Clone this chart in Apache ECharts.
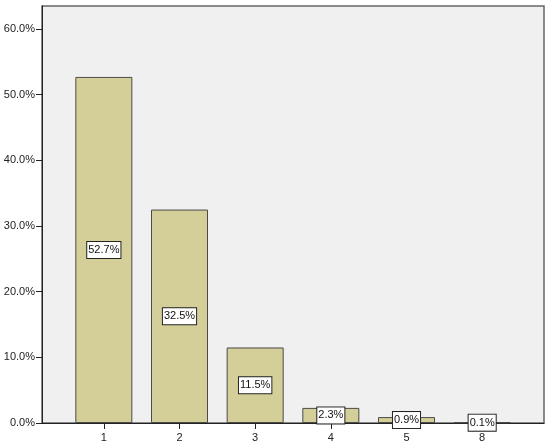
<!DOCTYPE html>
<html>
<head>
<meta charset="utf-8">
<script src="https://cdn.jsdelivr.net/npm/echarts@6/dist/echarts.min.js"></script>
<style>html,body{margin:0;padding:0;background:#fff;}#c{width:550px;height:446px;}</style>
</head>
<body>
<div id="c"></div>
<script>
const categories = ['1', '2', '3', '4', '5', '8'];
const percents = [52.7, 32.5, 11.5, 2.3, 0.9, 0.1];
const yTicks = [0, 10, 20, 30, 40, 50, 60];
const yMax = 63.5;

const chart = echarts.init(document.getElementById('c'), null, {renderer: 'canvas'});
const font = 'Liberation Sans, Arial, sans-serif';
chart.setOption({
  animation: false,
  backgroundColor: '#ffffff',
  grid: [
    {left: 42, right: 6, top: 6, bottom: 23, show: true, backgroundColor: '#F0F0F0', borderColor: '#666', borderWidth: 1.5},
    {left: 66, right: 30, top: 6, bottom: 23}
  ],
  xAxis: [
    {gridIndex: 0, type: 'value', min: 0, max: 1, axisLine: {show: true, onZero: false, lineStyle: {color: '#222', width: 1}},
     axisTick: {show: false}, axisLabel: {show: false}, splitLine: {show: false}},
    {gridIndex: 1, type: 'category', data: categories, axisLine: {show: false},
     axisTick: {show: true, alignWithLabel: true, length: 6, lineStyle: {color: '#222'}},
     axisLabel: {fontSize: 11, color: '#222', fontFamily: font, margin: 9}}
  ],
  yAxis: [
    {gridIndex: 0, type: 'value', min: 0, max: yMax,
     axisLine: {show: true, lineStyle: {color: '#222', width: 1}},
     axisTick: {show: true, length: 6, lineStyle: {color: '#222'}, customValues: yTicks},
     axisLabel: {fontSize: 11, color: '#222', fontFamily: font, margin: 7, customValues: yTicks,
       formatter: v => v.toFixed(1) + '%'},
     splitLine: {show: false}},
    {gridIndex: 1, type: 'value', min: 0, max: yMax, show: false, splitLine: {show: false}}
  ],
  series: [{
    type: 'bar',
    xAxisIndex: 1,
    yAxisIndex: 1,
    data: percents,
    barWidth: 57,
    itemStyle: {color: '#D4CF98', borderColor: '#4a4a4a', borderWidth: 1},
    label: {
      show: true,
      position: 'inside',
      formatter: p => p.value.toFixed(1) + '%',
      fontSize: 11,
      fontFamily: font,
      color: '#111',
      backgroundColor: '#ffffff',
      borderColor: '#222',
      borderWidth: 1,
      padding: [3, 1, 2, 1]
    }
  }]
});
</script>
</body>
</html>
